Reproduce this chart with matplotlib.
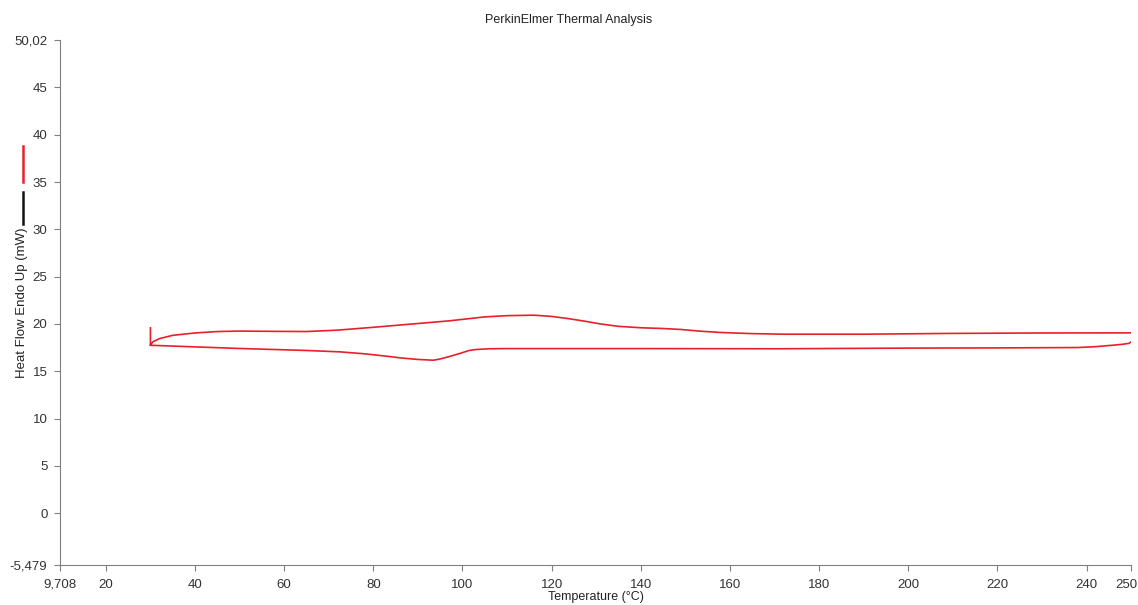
import matplotlib

matplotlib.use("Agg")
import matplotlib.pyplot as plt
import matplotlib.transforms as mtransforms
from matplotlib.lines import Line2D

plt.rcParams.update({"font.family": ["Liberation Sans", "DejaVu Sans"], "font.size": 9})

# start spike at 30 C
T_spike = [30.0, 30.0]
hf_spike = [19.6, 17.75]

# upper branch, 30 -> 250 C
T_up = [30.0, 30.5, 32, 35, 40, 45, 50, 58, 65, 72, 80, 90, 97, 105, 110, 116,
        120, 124, 128, 131, 135, 140, 145, 149, 153, 158, 165, 172, 190, 209,
        230, 250.3, 250.3]
hf_up = [17.75, 18.1, 18.45, 18.8, 19.05, 19.2, 19.25, 19.22, 19.2, 19.35, 19.65,
         20.05, 20.33, 20.75, 20.88, 20.93, 20.8, 20.55, 20.25, 20.0, 19.75, 19.6,
         19.52, 19.42, 19.25, 19.1, 18.98, 18.92, 18.92, 19.0, 19.05, 19.06, 18.2]

# lower branch, 250 -> 30 C
T_down = [249.5, 248, 246, 242, 238, 220, 200, 171, 140, 110, 106, 103, 101.5,
          99.5, 97, 95, 93.5, 90, 86, 83.8, 78, 72.6, 65, 50, 40, 30]
hf_down = [17.95, 17.85, 17.76, 17.6, 17.51, 17.47, 17.45, 17.38, 17.4, 17.4,
           17.38, 17.3, 17.2, 16.9, 16.55, 16.3, 16.17, 16.25, 16.42, 16.55, 16.85,
           17.05, 17.2, 17.41, 17.58, 17.75]

x_ticks = [9.708, 20, 40, 60, 80, 100, 120, 140, 160, 180, 200, 220, 240, 250]
x_labels = ["9,708", "20", "40", "60", "80", "100", "120", "140", "160", "180",
            "200", "220", "240", "250"]
y_ticks = [-5.479, 0, 5, 10, 15, 20, 25, 30, 35, 40, 45, 50.02]
y_labels = ["-5,479", "0", "5", "10", "15", "20", "25", "30", "35", "40", "45", "50,02"]

fig = plt.figure(figsize=(11.38, 6.05), dpi=100)
ax = fig.add_axes([0.0527, 0.0661, 0.9413, 0.8678])

T = T_spike + T_up + T_down
hf = hf_spike + hf_up + hf_down
ax.plot(T, hf, color="#e8202a", lw=1.2)

ax.set_xlim(x_ticks[0], x_ticks[-1])
ax.set_ylim(y_ticks[0], y_ticks[-1])
ax.set_xticks(x_ticks, x_labels)
ax.set_yticks(y_ticks, y_labels)
ax.tick_params(colors="#808080", labelcolor="#333333", labelsize=9.5, length=4)
ax.tick_params(axis="x", pad=6)
ax.tick_params(axis="y", pad=5)
for s in ("top", "right"):
    ax.spines[s].set_visible(False)
for s in ("left", "bottom"):
    ax.spines[s].set_color("#808080")

# last x label sits a little left of its tick, like the original
last = ax.get_xticklabels()[-1]
last.set_transform(last.get_transform()
                   + mtransforms.ScaledTranslation(-5 / 100, 0, fig.dpi_scale_trans))

ax.set_xlabel("Temperature (°C)", labelpad=0, color="#222222")
ax.set_ylabel("Heat Flow Endo Up (mW)", color="#222222", fontsize=9.5)
ax.yaxis.set_label_coords(-0.0295, 0.5)
fig.text(0.5, 1 - 20 / 605, "PerkinElmer Thermal Analysis", ha="center", va="center",
         color="#222222")

# curve markers left of the y axis
fig.add_artist(Line2D([0.0199, 0.0199], [1 - 146 / 605, 1 - 182 / 605],
                      color="#e8202a", lw=1.8))
fig.add_artist(Line2D([0.0199, 0.0199], [1 - 192 / 605, 1 - 224 / 605],
                      color="#111111", lw=1.8))

fig.savefig("out.png", dpi=100)
